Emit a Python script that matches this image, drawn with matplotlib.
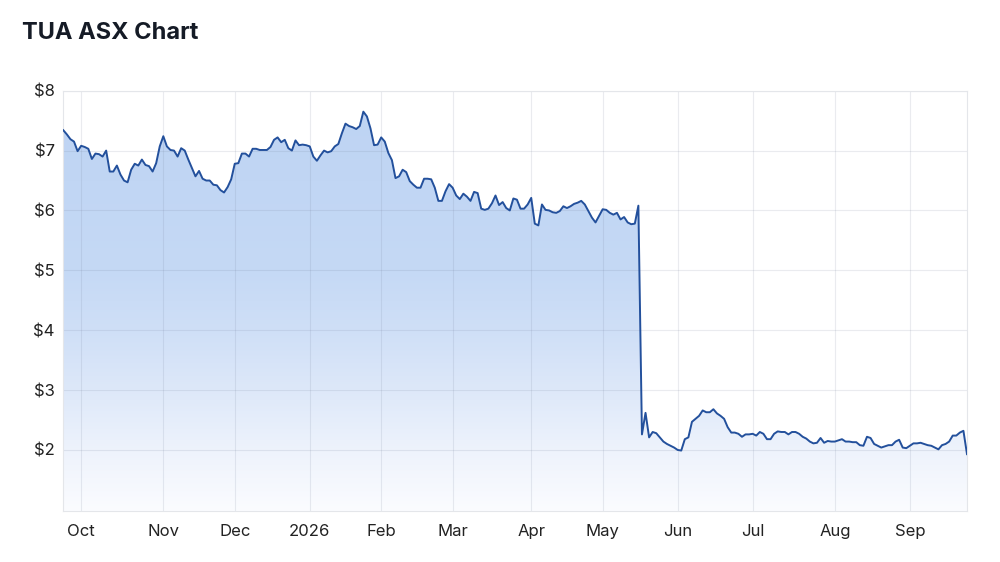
import numpy as np
import matplotlib
matplotlib.use("Agg")
import matplotlib.pyplot as plt
from matplotlib.colors import LinearSegmentedColormap
from matplotlib.ticker import FuncFormatter

plt.rcParams['font.family'] = ['Inter', 'DejaVu Sans']

# daily closes (trading days), late Sep 2025 -> late Sep 2026
prices = [
    7.34, 7.27, 7.19, 7.15, 6.99, 7.08, 7.06, 7.03, 6.86, 6.95,
    6.94, 6.90, 7.00, 6.65, 6.65, 6.75, 6.60, 6.50, 6.47, 6.68,
    6.78, 6.75, 6.85, 6.76, 6.74, 6.65, 6.79, 7.07, 7.24, 7.07,
    7.01, 7.00, 6.90, 7.04, 7.00, 6.85, 6.71, 6.57, 6.66, 6.53,
    6.50, 6.50, 6.43, 6.42, 6.34, 6.30, 6.39, 6.52, 6.78, 6.79,
    6.95, 6.95, 6.90, 7.03, 7.03, 7.01, 7.01, 7.01, 7.06, 7.18,
    7.22, 7.14, 7.18, 7.04, 7.00, 7.17, 7.09, 7.10, 7.09, 7.07,
    6.90, 6.83, 6.92, 7.00, 6.97, 6.99, 7.07, 7.11, 7.29, 7.45,
    7.41, 7.39, 7.36, 7.41, 7.65, 7.57, 7.37, 7.09, 7.10, 7.22,
    7.15, 6.96, 6.84, 6.54, 6.57, 6.68, 6.64, 6.49, 6.43, 6.38,
    6.38, 6.53, 6.53, 6.52, 6.38, 6.16, 6.16, 6.32, 6.44, 6.38,
    6.25, 6.19, 6.28, 6.23, 6.16, 6.31, 6.29, 6.03, 6.01, 6.03,
    6.12, 6.25, 6.09, 6.14, 6.04, 6.00, 6.20, 6.18, 6.03, 6.03,
    6.10, 6.21, 5.78, 5.75, 6.10, 6.01, 6.00, 5.97, 5.96, 5.99,
    6.07, 6.04, 6.07, 6.11, 6.13, 6.16, 6.10, 5.99, 5.88, 5.80,
    5.91, 6.02, 6.01, 5.96, 5.93, 5.96, 5.85, 5.89, 5.80, 5.77,
    5.78, 6.08, 2.26, 2.62, 2.21, 2.30, 2.28, 2.21, 2.14, 2.10,
    2.07, 2.04, 2.00, 1.99, 2.18, 2.21, 2.47, 2.52, 2.57, 2.66,
    2.63, 2.63, 2.68, 2.61, 2.57, 2.52, 2.38, 2.29, 2.29, 2.27,
    2.22, 2.26, 2.26, 2.27, 2.24, 2.30, 2.27, 2.18, 2.18, 2.27,
    2.31, 2.30, 2.30, 2.26, 2.30, 2.30, 2.27, 2.22, 2.19, 2.14,
    2.11, 2.12, 2.20, 2.12, 2.15, 2.14, 2.14, 2.16, 2.18, 2.14,
    2.14, 2.13, 2.13, 2.08, 2.07, 2.22, 2.20, 2.10, 2.07, 2.04,
    2.06, 2.08, 2.08, 2.14, 2.17, 2.04, 2.03, 2.07, 2.11, 2.11,
    2.12, 2.10, 2.08, 2.07, 2.04, 2.01, 2.08, 2.10, 2.14, 2.24,
    2.24, 2.29, 2.32, 1.93,
]

# first trading day of each month (index into prices)
month_idx = [5, 28, 48, 69, 89, 109, 131, 151, 172, 193, 216, 237]
month_labels = ['Oct', 'Nov', 'Dec', '2026', 'Feb', 'Mar', 'Apr', 'May',
                'Jun', 'Jul', 'Aug', 'Sep']
y_ticks = [2, 3, 4, 5, 6, 7, 8]

x = np.arange(len(prices))
y = np.array(prices)
ymin, ymax = 0.98, 8.0

fig = plt.figure(figsize=(10, 5.62), dpi=100)
ax = fig.add_axes([0.0633, 0.0907, 0.9037, 0.7479])

# gradient fill under the line
cmap = LinearSegmentedColormap.from_list('fade', [
    (0.0, '#fbfcff'), (0.14, '#eef3fc'), (0.29, '#dde8f9'),
    (0.43, '#cfdff7'), (0.57, '#c5d9f5'), (1.0, '#bdd3f3')])
grad = np.linspace(0, 1, 256).reshape(-1, 1)
img = ax.imshow(grad, cmap=cmap, aspect='auto', origin='lower',
                extent=[x[0], x[-1], ymin, ymax], zorder=1)
poly = ax.fill_between(x, y, ymin, color='none', lw=0)
img.set_clip_path(poly.get_paths()[0], transform=ax.transData)

ax.plot(x, y, color='#23509c', lw=1.4, zorder=3, solid_joinstyle='round')

ax.set_xlim(x[0], x[-1])
ax.set_ylim(ymin, ymax)
ax.set_xticks(month_idx)
ax.set_xticklabels(month_labels)
ax.set_yticks(y_ticks)
ax.yaxis.set_major_formatter(FuncFormatter(lambda v, p: '${:.0f}'.format(v)))
ax.tick_params(length=0, labelsize=12, labelcolor='#222222')
ax.tick_params(axis='x', pad=9)
ax.tick_params(axis='y', pad=6)

ax.set_axisbelow('line')
ax.grid(True, color='#737f99', alpha=0.15, lw=0.8)
for s in ax.spines.values():
    s.set_color('#e4e6ea')
    s.set_linewidth(0.8)

fig.text(0.022, 0.942, 'TUA ASX Chart', fontsize=17, fontweight='bold',
         color='#151b26', va='center', ha='left')

fig.savefig('out.png', dpi=100)
